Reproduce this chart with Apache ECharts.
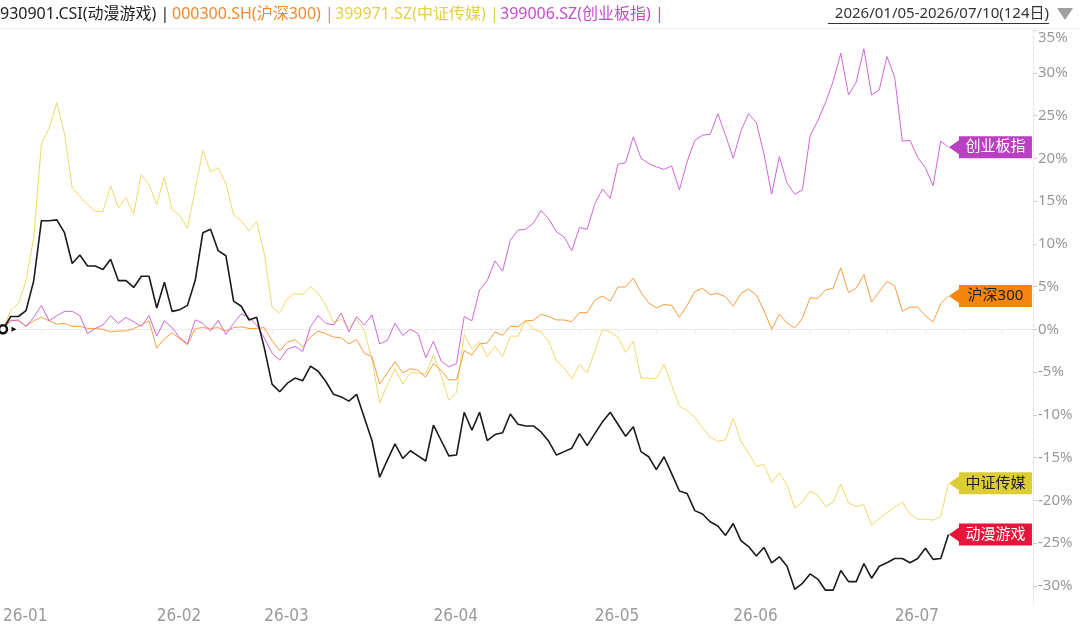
<!DOCTYPE html>
<html>
<head>
<meta charset="utf-8">
<style>
  html, body { margin: 0; padding: 0; background: #fff; }
  #chart { width: 1080px; height: 629px; }
</style>
<script src="https://cdn.jsdelivr.net/npm/echarts@6/dist/echarts.min.js"></script>
</head>
<body>
<div id="chart"></div>
<script>
// 交易日 2026/01/05 - 2026/07/10 (124日)
const dates = [
  '2026-01-05','2026-01-06','2026-01-07','2026-01-08','2026-01-09','2026-01-12','2026-01-13','2026-01-14','2026-01-15','2026-01-16',
  '2026-01-19','2026-01-20','2026-01-21','2026-01-22','2026-01-23','2026-01-26','2026-01-27','2026-01-28','2026-01-29','2026-01-30',
  '2026-02-02','2026-02-03','2026-02-04','2026-02-05','2026-02-06','2026-02-09','2026-02-10','2026-02-11','2026-02-12','2026-02-13',
  '2026-02-24','2026-02-25','2026-02-26','2026-02-27',
  '2026-03-02','2026-03-03','2026-03-04','2026-03-05','2026-03-06','2026-03-09','2026-03-10','2026-03-11','2026-03-12','2026-03-13',
  '2026-03-16','2026-03-17','2026-03-18','2026-03-19','2026-03-20','2026-03-23','2026-03-24','2026-03-25','2026-03-26','2026-03-27',
  '2026-03-30','2026-03-31',
  '2026-04-01','2026-04-02','2026-04-03','2026-04-07','2026-04-08','2026-04-09','2026-04-10','2026-04-13','2026-04-14','2026-04-15',
  '2026-04-16','2026-04-17','2026-04-20','2026-04-21','2026-04-22','2026-04-23','2026-04-24','2026-04-27','2026-04-28','2026-04-29',
  '2026-04-30',
  '2026-05-06','2026-05-07','2026-05-08','2026-05-11','2026-05-12','2026-05-13','2026-05-14','2026-05-15','2026-05-18','2026-05-19',
  '2026-05-20','2026-05-21','2026-05-22','2026-05-25','2026-05-26','2026-05-27','2026-05-28','2026-05-29',
  '2026-06-01','2026-06-02','2026-06-03','2026-06-04','2026-06-05','2026-06-08','2026-06-09','2026-06-10','2026-06-11','2026-06-12',
  '2026-06-15','2026-06-16','2026-06-17','2026-06-18','2026-06-22','2026-06-23','2026-06-24','2026-06-25','2026-06-26','2026-06-29',
  '2026-06-30',
  '2026-07-01','2026-07-02','2026-07-03','2026-07-06','2026-07-07','2026-07-08','2026-07-09','2026-07-10'
]

// 930901.CSI 动漫游戏 (%)
const animeGame = [
  0, 1.5, 1.5, 2.2, 5.7, 12.7, 12.7, 12.8, 11.3, 7.7,
  8.7, 7.4, 7.4, 7.0, 8.2, 5.7, 5.7, 4.9, 6.2, 6.2,
  2.5, 5.5, 2.1, 2.3, 2.8, 5.7, 11.3, 11.7, 9.2, 8.6,
  3.3, 2.7, 1.1, 1.4, -2.2, -6.4, -7.3, -6.3, -5.7, -6.0,
  -4.3, -4.9, -6.1, -7.6, -7.9, -8.4, -7.6, -10.3, -13.0, -17.3,
  -15.3, -13.4, -15.1, -14.2, -14.8, -15.4, -11.2, -13.0, -14.8, -14.7,
  -9.7, -11.8, -9.7, -13.0, -12.3, -12.1, -9.9, -11.1, -11.3, -11.3,
  -12.0, -13.1, -14.7, -14.3, -13.9, -12.2, -13.6, -12.2, -10.8, -9.7,
  -11.1, -12.5, -11.4, -14.3, -14.9, -16.4, -14.9, -16.9, -18.9, -19.2,
  -21.2, -21.6, -22.5, -23.0, -24.1, -22.7, -24.7, -25.4, -26.5, -25.5,
  -27.3, -26.6, -27.7, -30.4, -29.7, -28.6, -29.2, -30.5, -30.5, -28.2,
  -29.5, -29.5, -27.4, -29.1, -27.7, -27.3, -26.8, -26.8, -27.3, -26.8,
  -25.6, -26.9, -26.8, -24.0
]

// 000300.SH 沪深300 (%)
const hs300 = [
  0, 1.1, 1.0, 0.35, 1.0, 1.4, 1.0, 0.6, 0.7, 0.35,
  0.35, 0.1, 0.1, 0, -0.3, -0.2, -0.2, 0.1, 0.5, 1.0,
  -2.2, -1.1, -0.4, -1.1, -1.8, 0.1, 0.2, 0.1, 0.2, -0.2,
  0.2, 0.3, 0.1, 0.1, 0.2, -1.3, -2.5, -1.5, -1.2, -2.1,
  -0.9, -0.2, -0.5, -0.9, -1.0, -1.7, -1.2, -2.8, -3.2, -6.4,
  -5.1, -3.8, -5.1, -4.6, -4.8, -5.6, -4.0, -4.8, -5.9, -5.9,
  -2.5, -3.0, -1.7, -1.6, -0.3, -0.7, 0.35, 0.3, 1.0, 1.05,
  1.75, 1.5, 1.1, 1.1, 0.9, 1.95, 1.95, 3.4, 3.9, 3.3,
  4.95, 4.95, 6.0, 4.3, 3.1, 2.5, 2.9, 2.8, 1.4, 2.8,
  4.4, 4.8, 4.05, 4.2, 3.8, 2.7, 4.2, 4.7, 4.0, 2.2,
  0.0, 1.75, 0.75, 0.15, 1.3, 3.7, 3.6, 4.6, 4.8, 7.2,
  4.3, 4.8, 6.4, 3.2, 4.4, 5.6, 5.1, 2.1, 2.6, 2.6,
  1.6, 0.85, 3.0, 3.9
]

// 399971.SZ 中证传媒 (%)
const media = [
  0, 2.2, 3.0, 5.7, 10.8, 21.7, 23.5, 26.5, 22.9, 16.6,
  15.5, 14.6, 13.8, 13.8, 16.8, 14.2, 15.4, 13.5, 18.1, 16.9,
  14.6, 17.8, 14.0, 13.3, 11.8, 16.3, 20.9, 18.4, 18.9, 17.0,
  13.4, 12.7, 11.5, 12.6, 8.8, 2.6, 1.9, 3.6, 4.2, 4.1,
  5.0, 4.2, 2.8, 0.8, 1.2, 0.2, 1.2, -0.1, -3.6, -8.6,
  -6.5, -4.6, -6.4, -5.1, -5.1, -5.2, -3.0, -5.4, -8.3, -7.4,
  -0.6, -2.3, -1.4, -3.2, -2.0, -3.2, -0.8, -0.8, 1.0, 0.0,
  -0.3, -1.4, -3.7, -4.5, -5.8, -4.1, -5.1, -2.5, 0.0, -0.3,
  -0.9, -2.7, -1.4, -5.7, -5.7, -5.8, -4.1, -6.5, -9.0, -9.5,
  -10.3, -11.5, -12.6, -13.1, -12.9, -10.4, -13.1, -14.5, -16.0, -15.8,
  -17.9, -16.8, -18.2, -20.9, -20.2, -18.9, -19.4, -20.7, -20.2, -18.1,
  -20.3, -20.7, -20.5, -22.9, -22.1, -21.4, -20.8, -20.2, -21.6, -22.2,
  -22.2, -22.3, -21.9, -18.0
]

// 399006.SZ 创业板指 (%)
const chinext = [
  0, 1.0, 1.1, 0.35, 1.4, 2.8, 1.0, 1.6, 2.1, 2.1,
  1.6, -0.5, 0.1, 0.5, 1.6, 0.7, 1.4, 0.9, 0.35, 1.6,
  -0.8, 1.0, 0.2, -1.0, -1.7, 1.1, 0.7, -0.2, 1.05, -0.6,
  0.7, 1.8, 1.4, 0.5, -1.0, -2.8, -3.6, -2.3, -2.0, -2.6,
  0.3, 1.6, 0.7, 0.5, 1.9, -0.3, 1.5, 0.5, 1.7, -1.7,
  -1.3, 0.7, -0.7, 0.0, -0.5, -3.3, -1.4, -3.7, -4.4, -4.0,
  1.5, 1.0, 4.6, 5.7, 8.0, 6.8, 10.4, 11.6, 11.7, 12.4,
  13.9, 12.9, 11.4, 10.8, 9.2, 11.9, 11.7, 14.7, 16.4, 15.3,
  19.3, 19.5, 22.5, 20.0, 19.4, 19.0, 18.7, 19.1, 16.3, 19.6,
  22.1, 22.7, 22.8, 25.2, 22.7, 20.0, 23.2, 25.2, 24.2, 20.5,
  15.8, 20.2, 17.1, 15.8, 16.3, 22.6, 24.4, 26.5, 29.0, 32.3,
  27.4, 28.9, 32.8, 27.4, 28.0, 31.9, 29.5, 22.0, 22.1, 20.1,
  18.9, 16.8, 22.0, 21.3
]

const yTicks = [-30, -25, -20, -15, -10, -5, 0, 5, 10, 15, 20, 25, 30, 35]

// 右侧留白
const padCats = new Array(11).fill('')
const categories = dates.concat(padCats)

const monthStart = new Set()
dates.forEach((d, i) => {
  if (i === 0 || d.slice(0, 7) !== dates[i - 1].slice(0, 7)) monthStart.add(i)
})

const FONT = '"Noto Sans", "Noto Sans CJK SC", sans-serif'
const TAG_PATH = 'path://M0,11 L10,4 L10,0 L83,0 L83,22 L10,22 L10,18 Z'

function endTag(name, values, bg, fg) {
  const last = values.length - 1
  return {
    coord: [last, values[last]],
    symbol: TAG_PATH,
    symbolSize: [83, 22],
    symbolOffset: [42, 0],
    itemStyle: { color: bg },
    label: {
      show: true,
      position: 'inside',
      offset: [5, 0],
      color: fg,
      fontSize: 15,
      fontFamily: FONT,
      formatter: name,
    },
  }
}

function lineSeries(name, values, color, width, marks) {
  return {
    name,
    type: 'line',
    data: values,
    showSymbol: false,
    symbol: 'none',
    clip: false,
    lineStyle: { color, width },
    itemStyle: { color },
    emphasis: { disabled: true },
    markPoint: {
      silent: true,
      animation: false,
      data: marks,
    },
  }
}

const chart = echarts.init(document.getElementById('chart'))

const option = {
  animation: false,
  backgroundColor: '#fff',
  grid: {
    left: 3,
    right: 47,
    top: 30,
    bottom: 26,
  },
  xAxis: {
    type: 'category',
    data: categories,
    boundaryGap: false,
    axisLine: { lineStyle: { color: '#ececec' } },
    axisTick: {
      interval: (idx) => idx % 5 === 0 || monthStart.has(idx),
      length: 4,
      lineStyle: { color: '#ececec' },
    },
    axisLabel: {
      interval: (idx) => monthStart.has(idx),
      formatter: (val) => val.slice(2, 7),
      align: 'left',
      margin: 5,
      color: '#9a9a9a',
      fontSize: 17,
      fontFamily: '"Liberation Sans Narrow", "DejaVu Sans Condensed", "Noto Sans", sans-serif',
    },
    splitLine: { show: false },
  },
  yAxis: {
    type: 'value',
    position: 'right',
    min: -32,
    max: 35,
    axisLine: { show: true, lineStyle: { color: '#e4e4e4', type: 'dashed' } },
    axisTick: { show: true, customValues: yTicks, length: 4, lineStyle: { color: '#cfcfcf' } },
    axisLabel: {
      customValues: yTicks,
      formatter: (v) => v + '%',
      margin: 5,
      color: '#9a9a9a',
      fontSize: 15,
      fontFamily: FONT,
      verticalAlignMaxLabel: 'top',
    },
    splitLine: { show: false },
  },
  graphic: [
    { type: 'line', shape: { x1: 0, y1: 28.5, x2: 1080, y2: 28.5 }, style: { stroke: '#f0f0f0', lineWidth: 1 } },
    { type: 'text', x: 0, y: 14, style: { text: '930901.CSI(动漫游戏) |', fill: '#222', font: '16px ' + FONT, verticalAlign: 'middle' } },
    { type: 'text', x: 172, y: 14, style: { text: '000300.SH(沪深300) |', fill: '#f28a2a', font: '16px ' + FONT, verticalAlign: 'middle' } },
    { type: 'text', x: 335, y: 14, style: { text: '399971.SZ(中证传媒) |', fill: '#e5cf45', font: '16px ' + FONT, verticalAlign: 'middle' } },
    { type: 'text', x: 500, y: 14, style: { text: '399006.SZ(创业板指) |', fill: '#c64ccc', font: '16px ' + FONT, verticalAlign: 'middle' } },
    { type: 'text', x: 1049, y: 14, style: { text: '2026/01/05-2026/07/10(124日)', fill: '#333', font: '15px ' + FONT, align: 'right', verticalAlign: 'middle' } },
    { type: 'line', shape: { x1: 828, y1: 23.5, x2: 1049, y2: 23.5 }, style: { stroke: '#333', lineWidth: 1 } },
    { type: 'polygon', shape: { points: [[1057, 8], [1073, 8], [1065, 20]] }, style: { fill: '#a0a0a0' } },
  ],
  series: [
    lineSeries('中证传媒', media, '#efd969', 1, [endTag('中证传媒', media, '#dccd34', '#222')]),
    lineSeries('沪深300', hs300, '#f89c42', 1, [endTag('沪深300', hs300, '#f5850c', '#222')]),
    lineSeries('创业板指', chinext, '#cf68d6', 1, [endTag('创业板指', chinext, '#b940c0', '#fff')]),
    lineSeries('动漫游戏', animeGame, '#1a1a1a', 1.6, [
      endTag('动漫游戏', animeGame, '#e8143a', '#fff'),
      {
        coord: [0, animeGame[0]],
        symbol: 'circle',
        symbolSize: 8,
        itemStyle: { color: '#fff', borderColor: '#111', borderWidth: 2.5 },
        label: { show: false },
      },
      {
        coord: [0, animeGame[0]],
        symbol: 'triangle',
        symbolSize: [5, 5],
        symbolRotate: -90,
        symbolOffset: [11, 0],
        itemStyle: { color: '#111' },
        label: { show: false },
      },
    ]),
  ],
}

chart.setOption(option)
</script>
</body>
</html>
